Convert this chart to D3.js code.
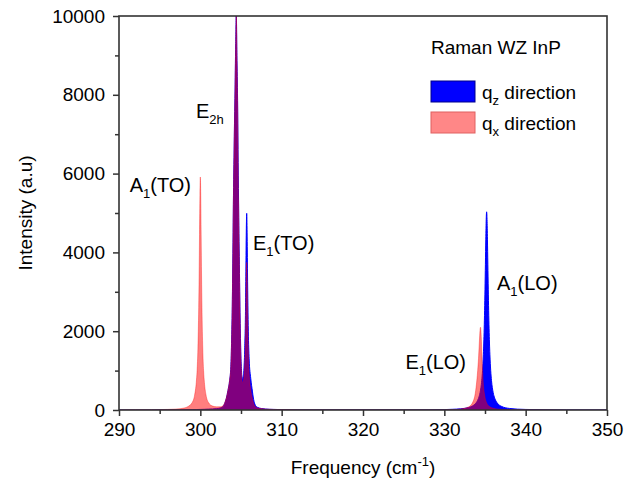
<!DOCTYPE html>
<html><head><meta charset="utf-8">
<script src="https://cdn.jsdelivr.net/npm/d3@7"></script>
<style>
body{margin:0;background:#fff}
text{font-family:"Liberation Sans",Arial,Helvetica,sans-serif;fill:#000}
</style>
</head><body>
<svg id="chart" width="638" height="482"></svg>
<script>
// ---- data ----
const freqQz = [290,292,294,296,297,298,299,299.5,300,300.5,301,301.5,302,302.5,302.8,303,303.2,303.4,303.6,303.75,303.85,303.95,304.05,304.15,304.25,304.35,304.42,304.5,304.58,304.7,304.8,304.86,304.95,305.05,305.15,305.25,305.35,305.45,305.55,305.6,305.65,305.7,305.75,305.8,305.9,306,306.2,306.4,306.5,306.7,307,307.5,308,309,310,312,315,320,325,328,330,331,332,333,333.5,333.8,334,334.2,334.4,334.5,334.6,334.7,334.8,334.9,335,335.05,335.1,335.15,335.2,335.25,335.3,335.35,335.4,335.5,335.6,335.7,335.8,336,336.2,336.5,337,338,340,345,350];
const intensityQz = [2,2,3,4,6,7,10,12,15,18,23,28,35,55,90,170,300,500,750,1100,1800,3000,5000,6600,7900,9300,10050,9000,7860,5330,3700,2790,1700,1050,800,830,1000,1500,2500,3524,4519,4992,4496,3479,2000,1300,800,480,330,150,70,38,25,15,10,7,4,4,4,6,10,18,30,65,106,155,209,296,447,569,744,1006,1413,2061,3067,3699,4336,4837,5030,4837,4336,3699,3067,2061,1413,1006,744,447,296,179,95,40,14,3,2];

const freqQx = [290,292,294,296,297,298,298.5,299,299.3,299.5,299.6,299.7,299.8,299.85,299.9,299.95,300,300.05,300.1,300.15,300.2,300.3,300.4,300.5,300.7,301,301.5,302,302.5,302.8,303,303.2,303.4,303.6,303.75,303.85,303.95,304.05,304.15,304.25,304.35,304.42,304.5,304.58,304.7,304.8,304.86,304.95,305.05,305.15,305.25,305.35,305.45,305.55,305.6,305.65,305.7,305.75,305.8,305.9,306,306.2,306.4,306.5,306.7,307,307.5,308,309,310,312,315,320,325,328,330,331,332,333,333.5,333.8,334,334.1,334.2,334.3,334.35,334.4,334.45,334.5,334.55,334.6,334.7,334.8,334.9,335,335.2,335.5,336,336.5,337,338,340,345,350];
const intensityQx = [3,5,7,15,24,50,90,190,380,700,1000,1550,2600,3400,4450,5450,5914,5450,4450,3400,2600,1550,1000,700,380,190,100,80,82,110,185,315,510,760,1110,1810,3010,5010,6610,7910,9310,10040,8990,7840,5300,3660,2750,1650,990,720,700,820,1150,1900,2666,3400,3748,3377,2620,1500,950,520,290,200,100,55,35,25,15,10,8,5,4,4,5,7,10,25,80,200,420,760,1000,1300,1700,1900,2050,2100,2000,1800,1500,1000,650,450,320,180,95,45,24,15,8,4,1,1];

const xMajorTicks = [290,300,310,320,330,340,350];
const xMinorTicks = [295,305,315,325,335,345];
const yMajorTicks = [0,2000,4000,6000,8000,10000];
const yMinorTicks = [1000,3000,5000,7000,9000];
const legendTitle = "Raman WZ InP";
const legendNames = [["q","z"," direction"],["q","x"," direction"]];
const xTitle = "Frequency (cm";
const yTitle = "Intensity (a.u)";

// ---- layout ----
const svg = d3.select("#chart");
const L = 119, R = 607, T = 16, B = 410;
const x = d3.scaleLinear().domain([290,350]).range([L,R]);
const y = d3.scaleLinear().domain([0,10000]).range([B,T]);

svg.append("defs").append("clipPath").attr("id","clip")
  .append("rect").attr("x",L).attr("y",T).attr("width",R-L).attr("height",B-T);

const qz = freqQz.map((f,i)=>[f,intensityQz[i]]);
const qx = freqQx.map((f,i)=>[f,intensityQx[i]]);

const area = d3.area().x(d=>x(d[0])).y0(y(0)).y1(d=>y(d[1])).curve(d3.curveMonotoneX);
const line = d3.line().x(d=>x(d[0])).y(d=>y(d[1])).curve(d3.curveMonotoneX);

const g = svg.append("g").attr("clip-path","url(#clip)");
g.append("path").datum(qz).attr("d",area).attr("fill","#0000ff");
g.append("path").datum(qz).attr("d",line).attr("fill","none").attr("stroke","#0000ff").attr("stroke-width",1);
g.append("path").datum(qx).attr("d",area).attr("fill","#ff0000").attr("fill-opacity",0.5);
g.append("path").datum(qx).attr("d",line).attr("fill","none").attr("stroke","#ff0000").attr("stroke-opacity",0.35).attr("stroke-width",1);

// ---- axes ----
const axisColor = "#333";
function styleAxis(sel){
  sel.selectAll(".domain").remove();
  sel.selectAll(".tick line").attr("stroke",axisColor).attr("stroke-width",1.5);
  sel.selectAll(".tick text").style("font-size","19px").attr("fill","#000");
}
svg.append("g").attr("transform",`translate(0,${B})`)
  .call(d3.axisBottom(x).tickValues(xMajorTicks).tickFormat(d3.format("d")).tickSize(6).tickPadding(7))
  .call(styleAxis);
svg.append("g").attr("transform",`translate(0,${B})`)
  .call(d3.axisBottom(x).tickValues(xMinorTicks).tickFormat("").tickSize(4))
  .call(styleAxis);
svg.append("g").attr("transform",`translate(${L},0)`)
  .call(d3.axisLeft(y).tickValues(yMajorTicks).tickFormat(d3.format("d")).tickSize(6).tickPadding(8))
  .call(styleAxis);
svg.append("g").attr("transform",`translate(${L},0)`)
  .call(d3.axisLeft(y).tickValues(yMinorTicks).tickFormat("").tickSize(4))
  .call(styleAxis);

svg.append("rect").attr("x",L).attr("y",T).attr("width",R-L).attr("height",B-T)
  .attr("fill","none").attr("stroke",axisColor).attr("stroke-width",1.6);

// ---- titles ----
const xt = svg.append("text").attr("x",(L+R)/2).attr("y",474).attr("text-anchor","middle").style("font-size","19px");
xt.append("tspan").text(xTitle);
xt.append("tspan").attr("dy",-8).style("font-size","13px").text("-1");
xt.append("tspan").attr("dy",8).text(")");

svg.append("text").attr("transform",`translate(32,${(T+B)/2}) rotate(-90)`)
  .attr("text-anchor","middle").style("font-size","19px").text(yTitle);

// ---- peak labels ----
function subLabel(px, py, main, sub, rest, anchor){
  const t = svg.append("text").attr("x",px).attr("y",py).attr("text-anchor",anchor||"start").style("font-size","20px");
  t.append("tspan").text(main);
  t.append("tspan").attr("dy",6).style("font-size","13px").text(sub);
  t.append("tspan").attr("dy",-6).text(rest);
  return t;
}
subLabel(191,192,"A","1","(TO)","end");
subLabel(196,118,"E","2h","");
subLabel(253,250,"E","1","(TO)");
subLabel(466,369,"E","1","(LO)","end");
subLabel(497,290,"A","1","(LO)");

// ---- legend ----
svg.append("text").attr("x",431).attr("y",54).style("font-size","19px").text(legendTitle);
const legColors = [{fill:"#0000ff",stroke:"#00008b",op:1},{fill:"#ff0000",stroke:"#e06060",op:0.47}];
legendNames.forEach((n,i)=>{
  const yy = 81 + i*31;
  svg.append("rect").attr("x",431).attr("y",yy).attr("width",44).attr("height",21)
    .attr("fill",legColors[i].fill).attr("fill-opacity",legColors[i].op)
    .attr("stroke",legColors[i].stroke).attr("stroke-width",1);
  const t = svg.append("text").attr("x",482).attr("y",yy+18).style("font-size","19px");
  t.append("tspan").text(n[0]);
  t.append("tspan").attr("dy",6).style("font-size","13px").text(n[1]);
  t.append("tspan").attr("dy",-6).text(n[2]);
});
</script>
</body></html>
